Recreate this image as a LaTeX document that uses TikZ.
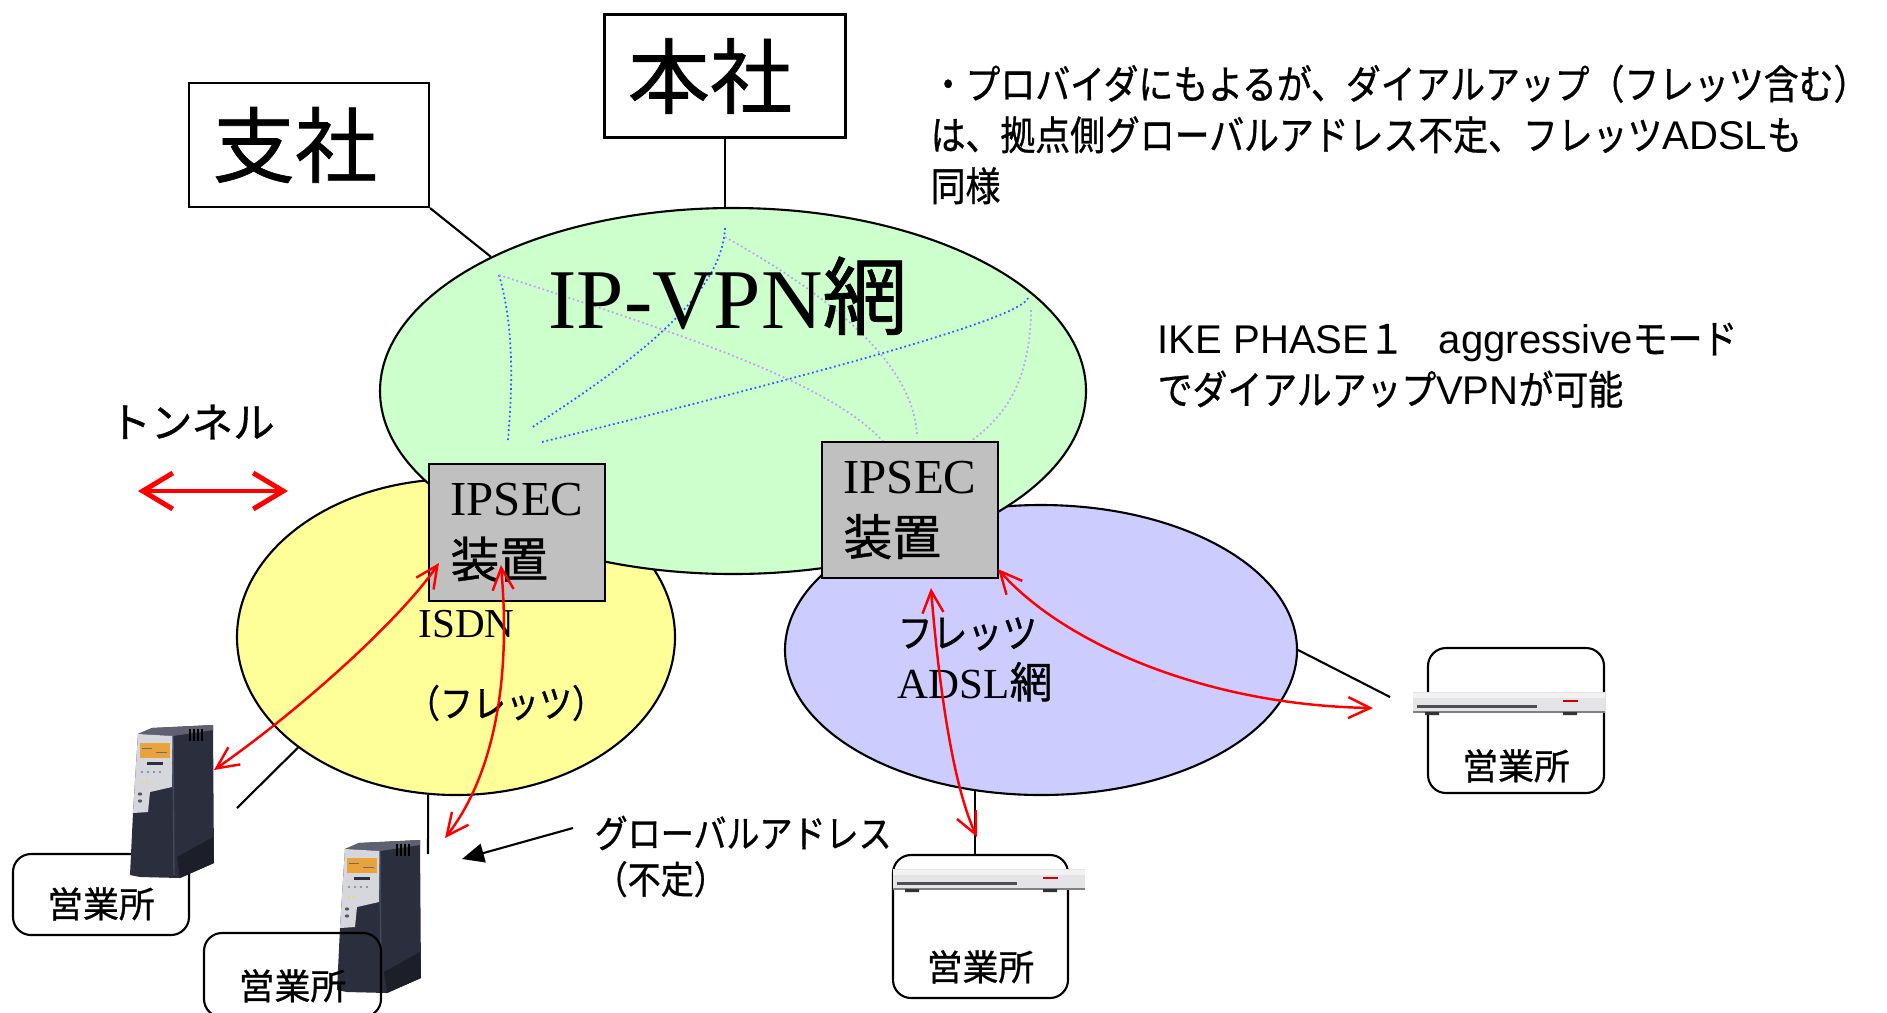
\documentclass[tikz,border=0pt]{standalone}
\usepackage{fontspec}
\setmainfont{Liberation Serif}
\newfontfamily\jpfont[FakeBold=0.8]{Noto Sans CJK JP}
\newfontfamily\jpnarrow[FakeStretch=0.87, FakeBold=0.8]{Noto Sans CJK JP}
\newfontfamily\latfont{Liberation Sans}
\usetikzlibrary{shapes.geometric}
\usetikzlibrary{arrows.meta}
\usetikzlibrary{positioning}

\definecolor{vpngreen}{HTML}{CCFFCC}
\definecolor{isdnyellow}{HTML}{FFFF99}
\definecolor{adslblue}{HTML}{CCCCFF}
\definecolor{boxgray}{HTML}{C0C0C0}
\definecolor{pathblue}{HTML}{2E5CFF}
\definecolor{pathviolet}{HTML}{C09CFF}
\definecolor{rtbody}{HTML}{2B2F3D}
\definecolor{rttop}{HTML}{5E6270}
\definecolor{rtpanel}{HTML}{D5D7DC}
\definecolor{rtlcd}{HTML}{E9A33A}
\definecolor{rtfoot}{HTML}{1C1F28}
\definecolor{rtedge}{HTML}{454A5A}
\definecolor{mdbody}{HTML}{E4E4E6}
\definecolor{mdstripe}{HTML}{4D4D52}

\tikzset{
    site/.style={draw, line width=0.6pt, minimum width=24.1mm, minimum height=12.3mm, font=\jpfont\fontsize{23.4}{26}\selectfont},
    net/.style={ellipse, draw, line width=0.6pt, inner sep=0pt},
    ipsec/.style={draw, line width=0.6pt, fill=boxgray, minimum width=17.6mm, minimum height=13.7mm, align=left, font=\fontsize{13.9}{17.6}\selectfont},
    office/.style={draw, line width=0.6pt, rounded corners=1.8mm, minimum width=17.6mm},
    officetext/.style={inner sep=0pt, font=\jpfont\fontsize{10.2}{12}\selectfont},
    note/.style={align=left, inner sep=0pt, font=\jpnarrow\fontsize{11.4}{14.5}\selectfont},
    wire/.style={line width=0.6pt},
    pointer/.style={line width=0.6pt, -{Triangle[length=2.2mm,width=1.9mm]}},
    tunnel/.style={red, line width=0.7pt, {Straight Barb[length=2.2mm,width=2.1mm]}-{Straight Barb[length=2.2mm,width=2.1mm]}},
    tunnelkey/.style={red, line width=1.4pt, line cap=round, {Straight Barb[length=3mm,width=3.6mm]}-{Straight Barb[length=3mm,width=3.6mm]}},
    vpath/.style={pathblue, line width=0.5pt, dash pattern=on 0.5pt off 0.8pt},
    ppath/.style={pathviolet, line width=0.5pt, dash pattern=on 0.5pt off 0.8pt},
    % tower type dial-up router
    router/.pic={
        \fill[rtbody] (0,150) -- (3,88) -- (8,9) -- (22,3) -- (83,0) -- (84,138) -- (50,153) -- (10,152) -- cycle;
        \fill[rttop] (8,9) -- (22,3) -- (83,0) -- (83,5) -- (43,11) -- cycle;
        \fill[rtpanel] (8,9) -- (43,11) -- (42,62) -- (20,67) -- (18,87) -- (3,88) -- cycle;
        \fill[rtlcd] (10,18) rectangle (40,33);
        \draw[rtbody!70, line width=0.2pt] (12,23) -- (22,23) (26,27) -- (37,27);
        \fill[rtbody] (17,37) rectangle (33,40);
        \foreach \x in {12,18,24,30} \fill[gray] (\x,47) circle (0.12mm);
        \foreach \x in {12,17} \fill[yellow!80!orange] (\x,57) circle (0.1mm);
        \foreach \y in {69,76} \fill[rtbody!80] (10,\y) ellipse (0.22mm and 0.16mm);
        \foreach \x in {60,64,...,72} \draw[black, line width=0.5pt] (\x,4) -- (\x,16);
        \draw[rtedge, line width=0.4pt] (43,11) -- (44,150);
        \fill[rtfoot] (47,132) -- (83,112) -- (84,138) -- (50,153) -- cycle;
    },
    % flat ADSL modem
    modem/.pic={
        \fill[mdbody] (0,0) rectangle (192,20);
        \fill[white!95!black] (0,1) rectangle (192,6);
        \fill[mdstripe] (4,13) rectangle (124,16);
        \fill[red!80!black] (150,8) rectangle (165,10);
        \draw[gray, line width=0.3pt] (0,20) -- (192,20);
        \fill[black!80] (12,20) rectangle (26,23) (150,20) rectangle (164,23);
    }
}

\begin{document}
\begin{tikzpicture}[x=0.1mm, y=-0.1mm]
    \clip (0,0) rectangle (1887,1012);

    % access networks
    \node[net, fill=isdnyellow, minimum width=43.8mm, minimum height=31.6mm] (isdn) at (456,637) {};
    \node[net, fill=adslblue, minimum width=51.2mm, minimum height=29mm] (adsl) at (1041,650) {};
    % carrier IP-VPN
    \node[net, fill=vpngreen, minimum width=70.6mm, minimum height=36.6mm] (vpn) at (733,391) {};

    % routes inside the VPN
    \draw[vpath] (725,228) .. controls (722,300) and (620,370) .. (531,428);
    \draw[vpath] (499,275) .. controls (515,330) and (512,390) .. (508,440);
    \draw[vpath] (542,442) .. controls (800,378) and (1020,320) .. (1028,298);
    \draw[ppath] (499,275) .. controls (700,340) and (850,390) .. (892,453);
    \draw[ppath] (725,237) .. controls (820,290) and (915,360) .. (917,437);
    \draw[ppath] (1031,310) .. controls (1030,400) and (990,430) .. (950,455);
    \node[anchor=base, inner sep=0pt, font=\fontsize{24.2}{28}\selectfont] (vpntitle) at (728,328) {IP-VPN{\jpfont 網}};

    % IPSEC gateways
    \node[ipsec] (ipsecL) at (517,532.5) {IPSEC\\{\jpfont 装置}};
    \node[ipsec, minimum height=13.6mm] (ipsecR) at (910,510) {IPSEC\\{\jpfont 装置}};

    % network names
    \node[anchor=base west, inner sep=0pt, font=\fontsize{11.7}{14}\selectfont] (isdnname) at (418,637) {ISDN};
    \node[inner sep=0pt, font=\jpnarrow\fontsize{10.8}{12}\selectfont] (fletsname) at (506,703) {（フレッツ）};
    \node[anchor=west, inner sep=0pt, font=\jpnarrow\fontsize{11.4}{14}\selectfont] (adslflets) at (897,634) {フレッツ};
    \node[anchor=base west, inner sep=0pt, font=\fontsize{12.2}{14}\selectfont] (adslname) at (897,698) {ADSL{\jpfont 網}};

    % head office and branch
    \node[site] (honsha) at (725,76) {本社\kern3mm};
    \node[site, minimum width=24mm, minimum height=12.4mm] (shisha) at (309,145) {\raisebox{-0.6mm}{支社}\kern2.8mm};
    \draw[wire] (honsha.south) -- (honsha.south |- vpn.north);
    \draw[wire] (shisha.south east) -- (vpn.151);

    % access lines
    \coordinate (rt1wire) at (237,808);
    \coordinate (rt2wire) at (428,854);
    \coordinate (md2wire) at (1390,697);
    \draw[wire] (isdn.215) -- (rt1wire);
    \draw[wire] (isdn.260) -- (rt2wire);
    \draw[wire] (adsl.east) -- (md2wire);

    % sales offices on ISDN
    \node[office, minimum height=8.1mm] (office1) at (101,894.5) {};
    \node[officetext, above=1.5mm of office1.south] (office1name) {営業所};
    \pic at (130,725) {router};
    \pic at (337,840) {router};
    \node[office, minimum width=17.7mm, minimum height=8.4mm] (office2) at (292.5,975) {};
    \node[officetext, above=1.5mm of office2.south] (office2name) {営業所};

    % sales offices on ADSL
    \node[office, minimum width=17.5mm, minimum height=14.3mm] (office3) at (980.5,926.5) {};
    \node[officetext, above=1.5mm of office3.south] (office3name) {営業所};
    \draw[wire] (adsl.245) -- (adsl.245 |- office3.north);
    \pic at (893,869) {modem};
    \node[office, minimum height=14.5mm] (office4) at (1516,720.5) {};
    \node[officetext, above=1.1mm of office4.south] (office4name) {営業所};
    \pic at (1413,692) {modem};

    % tunnels
    \coordinate (rt1port) at (214,770);
    \coordinate (rt2port) at (445,838);
    \coordinate (md1port) at (977,837);
    \coordinate (md2port) at (1373,708);
    \draw[tunnel] ([shift={(11,-39)}]ipsecL.south west) .. controls (400,620) and (300,710) .. (rt1port);
    \draw[tunnel] ([shift={(73,-37)}]ipsecL.south west) .. controls (512,690) and (490,780) .. (rt2port);
    \draw[tunnel] ([shift={(110,9)}]ipsecR.south west) .. controls (940,700) and (955,790) .. (md1port);
    \draw[tunnel] ([shift={(-1,-10)}]ipsecR.south east) .. controls (1060,640) and (1200,705) .. (md2port);

    % legend
    \node[inner sep=0pt, font=\jpfont\fontsize{11.8}{13}\selectfont] (tunnelname) at (192,422) {トンネル};
    \coordinate (keyL) at (138,491);
    \coordinate (keyR) at (288,491);
    \draw[tunnelkey] (keyL) -- (keyR);

    % notes
    \node[anchor=north west, align=left, inner sep=0pt, font=\jpnarrow\fontsize{10.8}{13.1}\selectfont] (globalnote) at (594,815) {グローバルアドレス\\（不定）};
    \coordinate (gtip) at (462,859);
    \draw[pointer] ([shift={(-21,13)}]globalnote.north west) -- (gtip);
    \node[note, anchor=north west] (dialnote) at (930,64) {・プロバイダにもよるが、ダイアルアップ（フレッツ含む）\\は、拠点側グローバルアドレス不定、フレッツ{\latfont ADSL}も\\同様};
    \node[note, anchor=north west] (ikenote) at (1157,322) {{\latfont IKE PHASE}１　{\latfont aggressive}モード\\でダイアルアップ{\latfont VPN}が可能};
\end{tikzpicture}
\end{document}
